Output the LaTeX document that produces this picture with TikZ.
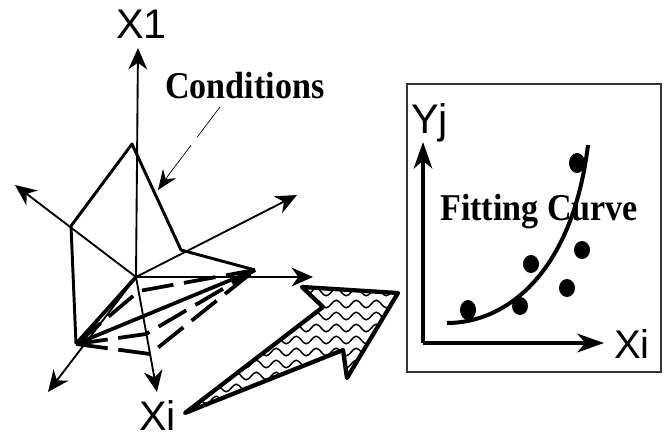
\documentclass[tikz,border=0pt]{standalone}
\usepackage{fontspec}
\setmainfont{Liberation Serif}[BoldFeatures={FakeStretch=0.9}]
\newfontfamily\axisfont{Liberation Sans}
\usetikzlibrary{arrows.meta,decorations.pathmorphing}

\begin{document}
\begin{tikzpicture}[
  x=0.75pt, y=-0.75pt,
  axislbl/.style={inner sep=0, anchor=base west, font=\axisfont\fontsize{31}{32}\selectfont},
  serlbl/.style={inner sep=0, anchor=base west, font=\bfseries\fontsize{28.4}{29}\selectfont},
  axs/.style={line width=1.4pt, -{Stealth[length=16pt, width=14pt, inset=5pt]}},
  edge/.style={line width=2.2pt, line join=round},
  thickedge/.style={line width=2.8pt},
  dashedge/.style={line width=2.8pt, dash pattern=on 24pt off 8pt},
  bigarrow/.style={line width=3.2pt, line join=round},
  wavy/.style={line width=1.1pt, decorate, decoration={snake, segment length=15pt, amplitude=2.8pt}},
  plotaxis/.style={line width=2.6pt, -{Stealth[length=20pt, width=14pt, inset=6pt]}}
]
\useasboundingbox (0,0) rectangle (668,437);
\fill[white] (0,0) rectangle (668,437);

% Axes
\coordinate (org) at (136,277);
\coordinate (t1) at (138,48);
\coordinate (t2) at (15,185);
\coordinate (t3) at (297,195);
\coordinate (t4) at (313,277);
\coordinate (t5) at (48,392);
\coordinate (t6) at (157,392);
\foreach \tp in {t1,t2,t3,t4,t5,t6}
  \draw[axs] (org) -- (\tp);

\node[axislbl] (xone) at (116,38) {X1};
\node[axislbl] (xileft) at (139,430) {Xi};
\node[serlbl] (conds) at (165,98) {Conditions};

% Polygon
\coordinate (ptop) at (132,144);
\coordinate (pleft) at (71,226);
\coordinate (pa) at (181,250);
\coordinate (pb) at (255,270);
\coordinate (pc) at (76,344);
\coordinate (pd) at (150,354);
\coordinate (pe) at (139,291);
\coordinate (pf) at (146,334);

\draw[edge] (pc) -- (pleft) -- (ptop) -- (pa) -- (pb);
\draw[thickedge] (pc) -- (pb);
\draw[thickedge] (pc) -- (org);
\draw[dashedge] (pc) -- (pd) -- (pb);
\draw[dashedge] (pc) -- (pf) -- (pb);
\draw[dashedge] (pc) -- (pe) -- (pb);

% Leader to the polygon
\coordinate (lead) at (158,190);
\draw[line width=0.5pt, dash pattern=on 28pt off 8pt] (220,107) -- (170,173);
\draw[line width=0.6pt, -{Stealth[length=15pt, width=12pt, inset=5pt]}] (170,173) -- (lead);

% Big arrow
\begin{scope}
  \clip (185,413) -- (323,307) -- (302,287) -- (398,293) -- (347,378) -- (343,350) -- cycle;
  \foreach \wy in {292,304,...,412}
    \draw[wavy] (170,\wy) -- (410,\wy);
\end{scope}
\draw[bigarrow] (185,413) -- (323,307) -- (302,287) -- (398,293) -- (347,378) -- (343,350) -- cycle;

% Plot panel
\draw[line width=0.8pt, black!80] (407,84) rectangle (661,372);
\coordinate (plotorg) at (423,343);
\draw[plotaxis] (plotorg) -- (423,142);
\draw[plotaxis] (plotorg) -- (604,343);
\node[axislbl] (yj) at (411,133) {Yj};
\node[axislbl, font=\axisfont\fontsize{30}{32}\selectfont] (xiright) at (614,358) {Xi};

% Points
\fill (468,310) ellipse [x radius=8, y radius=10];
\fill (520,306) ellipse [x radius=8, y radius=9];
\fill (531,264) ellipse [x radius=8, y radius=9];
\fill (567,288) ellipse [x radius=8, y radius=9];
\fill (582,250) ellipse [x radius=8, y radius=9];
\fill (577,163) ellipse [x radius=8, y radius=10];

\draw[line width=3pt] (447,323) .. controls (505,323) and (572,275) .. (588,145);
\node[serlbl] (fitlbl) at (440,220) {Fitting Curve};
\end{tikzpicture}
\end{document}
